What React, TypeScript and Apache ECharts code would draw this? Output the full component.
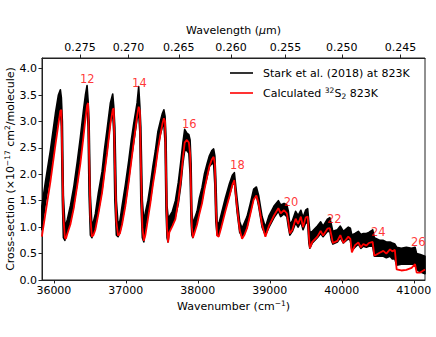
import React, { useEffect, useRef } from 'react';
import * as echarts from 'echarts';

const wavenumber = [
  35833, 35882, 35951, 36021, 36063, 36090, 36104, 36118, 36132, 36153, 36167,
  36188, 36229, 36275, 36326, 36368, 36410, 36438, 36461, 36475, 36489, 36507, 36528, 36549,
  36576, 36618, 36669, 36701, 36739, 36785, 36817, 36831, 36847, 36868, 36892, 36917,
  36947, 36993, 37039, 37076, 37108, 37156, 37178, 37194, 37208, 37229, 37250, 37271,
  37306, 37340, 37375, 37410, 37444, 37479, 37507, 37528, 37544, 37558, 37572, 37586, 37604,
  37646, 37688, 37729, 37764, 37792, 37817, 37847, 37875, 37892, 37906, 37917, 37931, 37951,
  37989, 38021, 38058, 38090, 38128, 38160, 38194, 38219, 38236, 38250, 38267, 38289,
  38326, 38382, 38438, 38479, 38507, 38544, 38581, 38614,
  38646, 38683, 38729, 38775, 38813, 38844, 38892, 38938,
  38989, 39058, 39118, 39150, 39197, 39236, 39257, 39278,
  39313, 39358, 39392, 39431, 39461, 39497, 39525, 39542, 39556,
  39590, 39660, 39706, 39739, 39799, 39833, 39854, 39875,
  39938, 39979, 40021, 40090, 40118, 40139,
  40183, 40229, 40264, 40299, 40340, 40375, 40428, 40451,
  40531, 40576, 40618, 40669, 40701, 40736, 40761,
  40826, 40896, 40969, 41017, 41039, 41090, 41155,
];

const blackLo = [
  0.95, 1.45, 2.0, 2.7, 3.1, 3.25, 2.9, 1.5, 0.8, 0.75, 0.85,
  0.92, 1.1, 1.4, 1.85, 2.3, 2.8, 3.15, 3.3, 2.9, 1.6, 0.85, 0.8, 0.9,
  1.0, 1.3, 1.7, 2.05, 2.45, 3.0, 3.15, 2.8, 1.5, 0.85, 0.82, 0.9,
  1.1, 1.45, 1.9, 2.3, 2.6, 3.05, 3.15, 2.8, 1.5, 0.8, 0.72, 1.0,
  1.25, 1.5, 1.85, 2.15, 2.5, 2.75, 2.9, 2.95, 2.6, 1.3, 0.8, 0.72, 0.95,
  1.05, 1.2, 1.45, 1.8, 2.2, 2.45, 2.45, 2.4, 2.0, 1.1, 0.85, 0.8, 0.95,
  1.1, 1.3, 1.5, 1.75, 1.95, 2.15, 2.2, 2.2, 1.8, 1.1, 0.85, 0.85,
  1.05, 1.35, 1.6, 1.8, 1.85, 1.3, 0.9, 0.82,
  0.88, 1.0, 1.28, 1.55, 1.6, 1.4, 1.0, 0.85,
  1.0, 1.18, 1.3, 1.2, 1.25, 1.2, 1.0, 0.85,
  0.92, 1.08, 1.0, 1.1, 0.95, 1.08, 1.08, 0.7, 0.6,
  0.7, 0.8, 0.88, 0.82, 0.92, 0.92, 0.75, 0.68,
  0.72, 0.8, 0.7, 0.78, 0.75, 0.56,
  0.62, 0.68, 0.6, 0.64, 0.62, 0.64, 0.64, 0.45,
  0.45, 0.45, 0.42, 0.45, 0.4, 0.4, 0.28,
  0.3, 0.3, 0.3, 0.3, 0.2, 0.15, 0.12,
];

const blackHi = [
  1.4, 1.85, 2.45, 3.15, 3.5, 3.6, 3.45, 3.0, 1.6, 1.05, 1.05,
  1.15, 1.4, 1.75, 2.25, 2.7, 3.2, 3.5, 3.68, 3.4, 3.0, 1.6, 1.05, 1.1,
  1.25, 1.65, 2.05, 2.45, 2.85, 3.35, 3.52, 3.3, 2.9, 1.5, 1.05, 1.12,
  1.4, 1.8, 2.25, 2.65, 2.95, 3.35, 3.66, 3.3, 2.9, 1.5, 1.1, 1.28,
  1.5, 1.8, 2.15, 2.45, 2.8, 3.0, 3.15, 3.22, 3.1, 2.7, 1.4, 1.2, 1.2,
  1.3, 1.5, 1.85, 2.25, 2.6, 2.85, 2.78, 2.75, 2.65, 2.2, 1.3, 1.05, 1.15,
  1.3, 1.55, 1.75, 2.0, 2.2, 2.35, 2.45, 2.48, 2.35, 1.9, 1.1, 1.05,
  1.25, 1.55, 1.82, 1.98, 2.03, 1.55, 1.1, 0.98,
  1.08, 1.2, 1.45, 1.72, 1.76, 1.6, 1.2, 1.0,
  1.22, 1.4, 1.5, 1.42, 1.45, 1.42, 1.3, 1.05,
  1.12, 1.3, 1.22, 1.32, 1.18, 1.32, 1.35, 1.1, 0.9,
  0.92, 1.02, 1.1, 1.02, 1.15, 1.18, 1.05, 0.92,
  0.95, 1.02, 0.92, 1.0, 0.98, 0.85,
  0.88, 0.92, 0.86, 0.88, 0.88, 0.9, 0.95, 0.8,
  0.75, 0.75, 0.72, 0.72, 0.7, 0.68, 0.62,
  0.6, 0.62, 0.6, 0.62, 0.5, 0.48, 0.45,
];

const calculated = [
  0.82, 1.25, 1.85, 2.55, 2.95, 3.2, 3.22, 2.2, 1.2, 0.8, 0.78,
  0.88, 1.05, 1.35, 1.8, 2.2, 2.7, 3.05, 3.3, 3.35, 2.4, 1.2, 0.82, 0.85,
  0.95, 1.25, 1.65, 2.0, 2.4, 2.95, 3.22, 3.25, 2.2, 1.1, 0.84, 0.88,
  1.05, 1.4, 1.85, 2.25, 2.6, 3.1, 3.28, 3.2, 2.2, 1.0, 0.74, 0.85,
  1.15, 1.45, 1.8, 2.1, 2.45, 2.75, 2.95, 3.06, 3.0, 2.0, 1.0, 0.71, 0.9,
  1.02, 1.15, 1.5, 1.9, 2.3, 2.6, 2.65, 2.6, 2.4, 1.6, 1.0, 0.8, 0.88,
  1.05, 1.25, 1.45, 1.7, 1.95, 2.15, 2.28, 2.33, 2.2, 1.4, 0.84, 0.82,
  1.0, 1.3, 1.58, 1.8, 1.89, 1.38, 0.95, 0.78,
  0.85, 0.98, 1.25, 1.52, 1.6, 1.45, 1.05, 0.82,
  1.03, 1.22, 1.36, 1.26, 1.32, 1.26, 1.1, 0.88,
  0.95, 1.16, 1.06, 1.2, 1.0, 1.18, 1.2, 0.85, 0.6,
  0.72, 0.82, 0.93, 0.84, 0.97, 0.98, 0.85, 0.7,
  0.74, 0.85, 0.7, 0.82, 0.78, 0.52,
  0.66, 0.71, 0.62, 0.68, 0.65, 0.7, 0.72, 0.46,
  0.52, 0.55, 0.5, 0.58, 0.54, 0.57, 0.2,
  0.18, 0.19, 0.23, 0.3, 0.14, 0.14, 0.2,
];

const xTicks = [36000, 37000, 38000, 39000, 40000, 41000];
const yTicks = [0, 0.5, 1.0, 1.5, 2.0, 2.5, 3.0, 3.5, 4.0];
const wavelengthTicks = [0.275, 0.27, 0.265, 0.26, 0.255, 0.25, 0.245];

const bandLabels = ['12', '14', '16', '18', '20', '22', '24', '26'];
const bandLabelX = [36465, 37188, 37882, 38549, 39294, 39896, 40507, 41062];
const bandLabelY = [3.81, 3.72, 2.96, 2.17, 1.47, 1.16, 0.9, 0.71];

const X_MIN = 35835;
const X_MAX = 41155;
const FONT = 'DejaVu Sans';
const BLACK_NAME = 'Stark et al. (2018) at 823K';
const RED_NAME = 'Calculated 32S2 823K';

export default function App() {
  const ref = useRef<HTMLDivElement>(null);

  useEffect(() => {
    if (!ref.current) return;
    const chart = echarts.init(ref.current, undefined, { renderer: 'svg' });

    const supRich = {
      a: { fontFamily: FONT, fontSize: 11, color: '#000', lineHeight: 14 },
      sup: { fontFamily: FONT, fontSize: 7.5, color: '#000', lineHeight: 6, verticalAlign: 'top' },
      sub: { fontFamily: FONT, fontSize: 7.5, color: '#000', lineHeight: 6, verticalAlign: 'bottom' },
      it: { fontFamily: FONT, fontSize: 11, color: '#000', lineHeight: 14, fontStyle: 'italic' },
    };

    const option: any = {
      animation: false,
      backgroundColor: '#fff',
      textStyle: { fontFamily: FONT },
      grid: {
        left: 42,
        right: 11,
        top: 58,
        bottom: 57,
        containLabel: false,
        outerBoundsMode: 'none',
        show: true,
        borderColor: '#222',
        borderWidth: 1,
        backgroundColor: 'transparent',
      },
      legend: {
        orient: 'vertical',
        left: 230,
        top: 66,
        padding: 0,
        itemWidth: 23,
        itemHeight: 1.6,
        itemGap: 6,
        icon: 'rect',
        data: [
          { name: BLACK_NAME, itemStyle: { color: '#000' } },
          { name: RED_NAME, itemStyle: { color: '#ff0000' } },
        ],
        formatter: (name: string) =>
          name === RED_NAME
            ? '{a|Calculated }{sup|32}{a|S}{sub|2}{a| 823K}'
            : '{a|' + name + '}',
        textStyle: {
          fontFamily: FONT,
          fontSize: 11,
          color: '#000',
          lineHeight: 14,
          padding: [0, 0, 0, 5],
          rich: supRich,
        },
      },
      xAxis: [
        {
          type: 'value',
          position: 'bottom',
          min: X_MIN,
          max: X_MAX,
          name: '{a|Wavenumber (cm}{sup|−1}{a|)}',
          nameLocation: 'middle',
          nameGap: 19,
          nameMoveOverlap: false,
          nameTextStyle: { rich: supRich },
          axisLine: { show: true, lineStyle: { color: '#222', width: 1 } },
          axisTick: { show: true, length: 3.5, lineStyle: { color: '#222' }, customValues: xTicks },
          axisLabel: {
            customValues: xTicks,
            formatter: (v: number) => String(Math.round(v)),
            fontFamily: FONT,
            fontSize: 11,
            color: '#000',
            margin: 5,
          },
          splitLine: { show: false },
        },
        {
          type: 'value',
          position: 'top',
          min: X_MIN,
          max: X_MAX,
          name: '{a|Wavelength (}{it|μ}{a|m)}',
          nameLocation: 'middle',
          nameGap: 21,
          nameMoveOverlap: false,
          nameTextStyle: { rich: supRich },
          axisLine: { show: true, lineStyle: { color: '#222', width: 1 } },
          axisTick: {
            show: true,
            length: 3.5,
            lineStyle: { color: '#222' },
            customValues: wavelengthTicks.map((w) => 1e4 / w),
          },
          axisLabel: {
            customValues: wavelengthTicks.map((w) => 1e4 / w),
            formatter: (v: number) => (1e4 / v).toFixed(3),
            fontFamily: FONT,
            fontSize: 11,
            color: '#000',
            margin: 5,
          },
          splitLine: { show: false },
        },
      ],
      yAxis: {
        type: 'value',
        min: 0,
        max: 4.2,
        name: '{a|Cross-section (×10}{sup|−17}{a| cm}{sup|2}{a|/molecule)}',
        nameLocation: 'middle',
        nameGap: 25,
        nameMoveOverlap: false,
        nameTextStyle: { rich: supRich },
        axisLine: { show: true, lineStyle: { color: '#222', width: 1 } },
        axisTick: { show: true, length: 3.5, lineStyle: { color: '#222' }, customValues: yTicks },
        axisLabel: {
          customValues: yTicks,
          formatter: (v: number) => v.toFixed(1),
          fontFamily: FONT,
          fontSize: 11,
          color: '#000',
          margin: 5,
        },
        splitLine: { show: false },
      },
      series: [
        {
          name: BLACK_NAME,
          type: 'custom',
          xAxisIndex: 0,
          yAxisIndex: 0,
          itemStyle: { color: '#000' },
          encode: { x: 0, y: [1, 2] },
          data: wavenumber.map((x, i) => [x, blackLo[i], blackHi[i]]),
          renderItem: (params: any, api: any) => {
            if (params.dataIndex !== 0) return null;
            const top = wavenumber.map((x, i) => api.coord([x, blackHi[i]]));
            const bottom = wavenumber.map((x, i) => api.coord([x, blackLo[i]])).reverse();
            return {
              type: 'polygon',
              shape: { points: top.concat(bottom) },
              style: { fill: '#000', stroke: '#000', lineWidth: 1.6, lineJoin: 'round' },
            };
          },
          z: 2,
        },
        {
          name: RED_NAME,
          type: 'line',
          xAxisIndex: 0,
          yAxisIndex: 0,
          data: wavenumber.map((x, i) => [x, calculated[i]]),
          symbol: 'none',
          lineStyle: { color: '#ff0000', width: 1.8 },
          itemStyle: { color: '#ff0000' },
          z: 3,
        },
        {
          name: 'bands',
          type: 'scatter',
          xAxisIndex: 0,
          yAxisIndex: 0,
          symbolSize: 0,
          data: bandLabels.map((t, i) => ({ value: [bandLabelX[i], bandLabelY[i]], name: t })),
          label: {
            show: true,
            position: 'inside',
            formatter: (p: any) => p.name,
            fontFamily: FONT,
            fontSize: 11.5,
            color: '#ff0000',
          },
          z: 4,
        },
      ],
    };

    chart.setOption(option);
    return () => chart.dispose();
  }, []);

  return (
    <div
      ref={ref}
      style={{ position: 'fixed', left: 0, top: 0, width: 436, height: 337, background: '#fff' }}
    />
  );
}
